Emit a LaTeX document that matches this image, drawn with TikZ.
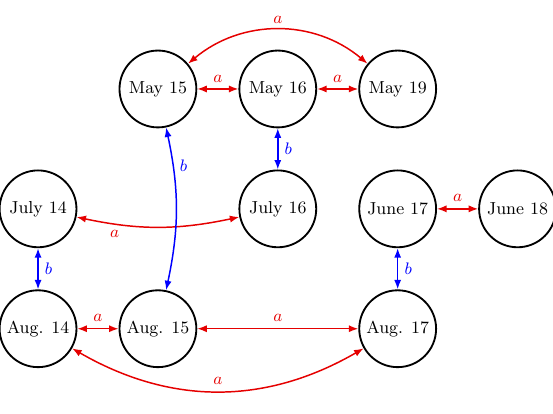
\documentclass[tikz,border=0pt]{standalone}
\usetikzlibrary{arrows.meta,positioning}

\begin{document}
\begin{tikzpicture}[node distance=0.782cm,font=\fontsize{9.4pt}{11pt}\selectfont,
    day/.style={draw,circle,line width=1pt,minimum size=1.46cm,inner sep=1pt},
    ra/.style={{Latex[length=1.8mm]}-{Latex[length=1.8mm]},thick,red!90!black},
    ba/.style={{Latex[length=1.8mm]}-{Latex[length=1.8mm]},thick,blue}]
  \useasboundingbox (-3.0,1.69) rectangle (7.505,-6.156);
  \node[day] (m15) {May 15};
  \node[day,right=of m15] (m16) {May 16};
  \node[day,right=of m16] (m19) {May 19};
  \node[day,below=of m16] (j16) {July 16};
  \node[day,below=of m19] (j17) {June 17};
  \node[day,right=of j17] (j18) {June 18};
  \node[day,below=of j17] (a17) {Aug. 17};
  \node[day] (a15) at (m15 |- a17) {Aug. 15};
  \node[day,left=of a15] (a14) {Aug. 14};
  \node[day] (j14) at (a14 |- j16) {July 14};
  % red edges
  \draw[ra] (m15) -- node[above]{$a$} (m16);
  \draw[ra] (m16) -- node[above]{$a$} (m19);
  \draw[ra] (m15) to[bend left=40] node[above]{$a$} (m19);
  \draw[ra] (j14) to[bend right=12] node[pos=0.22,below]{$a$} (j16);
  \draw[ra] (a14) -- node[above]{$a$} (a15);
  \draw[ra] (a15) -- node[above]{$a$} (a17);
  \draw[ra] (a14) to[bend right=30] node[above]{$a$} (a17);
  \draw[ra] (j17) -- node[above]{$a$} (j18);
  % blue edges
  \draw[ba] (m16) -- node[right]{$b$} (j16);
  \draw[ba] (m15) to[bend left=12] node[pos=0.22,right]{$b$} (a15);
  \draw[ba] (j14) -- node[right]{$b$} (a14);
  \draw[ba] (j17) -- node[right]{$b$} (a17);
\end{tikzpicture}
\end{document}
